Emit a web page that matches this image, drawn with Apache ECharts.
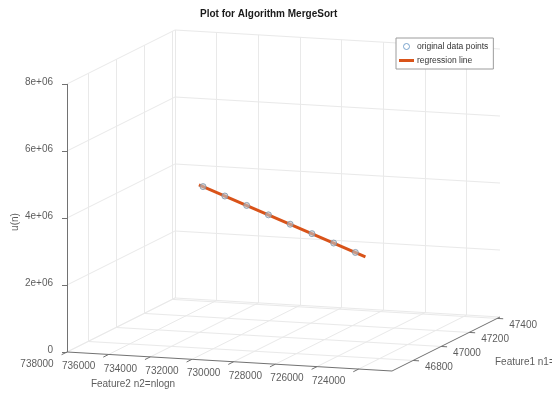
<!DOCTYPE html>
<html>
<head>
<meta charset="utf-8">
<script src="https://cdn.jsdelivr.net/npm/echarts@6/dist/echarts.min.js"></script>
<style>
  html, body { margin: 0; background: #fff; }
  #chart { width: 552px; height: 393px; }
</style>
</head>
<body>
<div id="chart"></div>
<script>
// measured points: n1 = n, n2 = n*log2(n), u(n)
const feature1 = [47426, 47324, 47222, 47120, 47018, 46916, 46814, 46712];
const feature2 = [736695, 734961, 733228, 731496, 729765, 728034, 726303, 724574];
const un = [3.360e6, 3.356e6, 3.351e6, 3.347e6, 3.343e6, 3.339e6, 3.334e6, 3.330e6];

// regression line end points
const fitFeature1 = [47445, 46665];
const fitFeature2 = [737018, 723777];
const fitUn = [3.362e6, 3.325e6];

const zTicks = [0, 2e6, 4e6, 6e6, 8e6];
const zTickLabels = ["0", "2e+06", "4e+06", "6e+06", "8e+06"];
const f2Ticks = [738000, 736000, 734000, 732000, 730000, 728000, 726000, 724000];
const f2TickLabels = ["738000", "736000", "734000", "732000", "730000", "728000", "726000", "724000"];
const f1Ticks = [46800, 47000, 47200, 47400];
const f1TickLabels = ["46800", "47000", "47200", "47400"];

// 3-D box as MATLAB draws it (orthographic view), in screen px
const F2_LIM = [722400, 738000]; // reversed: 738000 sits at the front-left corner
const F1_LIM = [46650, 47420];
const Z_LIM = [0, 8e6];
const ORIGIN = [67, 352];
const U_DIR = [325, 19];   // along feature2
const V_DIR = [108, -54];  // along feature1 (depth)
const W_DIR = [0, -268];   // up, u(n)

function proj(f1, f2, z) {
  const u = (F2_LIM[1] - f2) / (F2_LIM[1] - F2_LIM[0]);
  const v = (f1 - F1_LIM[0]) / (F1_LIM[1] - F1_LIM[0]);
  const w = (z - Z_LIM[0]) / (Z_LIM[1] - Z_LIM[0]);
  return [
    ORIGIN[0] + u * U_DIR[0] + v * V_DIR[0] + w * W_DIR[0],
    ORIGIN[1] + u * U_DIR[1] + v * V_DIR[1] + w * W_DIR[1],
  ];
}

const FONT = "'Liberation Sans', Arial, Helvetica, sans-serif";
const GRID_COLOR = "#e9e9e9";
const AXIS_COLOR = "#727272";
const TEXT_COLOR = "#333";
const LINE_COLOR = "#D95319";

// grid on the three walls
const gridSegs = [];
zTicks.forEach((z) => {
  gridSegs.push([proj(F1_LIM[1], F2_LIM[1], z), proj(F1_LIM[1], F2_LIM[0], z)]);
  gridSegs.push([proj(F1_LIM[0], F2_LIM[1], z), proj(F1_LIM[1], F2_LIM[1], z)]);
});
f2Ticks.forEach((t) => {
  gridSegs.push([proj(F1_LIM[1], t, Z_LIM[0]), proj(F1_LIM[1], t, Z_LIM[1])]);
  gridSegs.push([proj(F1_LIM[0], t, Z_LIM[0]), proj(F1_LIM[1], t, Z_LIM[0])]);
});
f1Ticks.forEach((t) => {
  gridSegs.push([proj(t, F2_LIM[1], Z_LIM[0]), proj(t, F2_LIM[1], Z_LIM[1])]);
  gridSegs.push([proj(t, F2_LIM[1], Z_LIM[0]), proj(t, F2_LIM[0], Z_LIM[0])]);
});

// axis lines and tick marks
const axisSegs = [
  [proj(F1_LIM[0], F2_LIM[1], Z_LIM[0]), proj(F1_LIM[0], F2_LIM[1], Z_LIM[1])],
  [proj(F1_LIM[0], F2_LIM[1], Z_LIM[0]), proj(F1_LIM[0], F2_LIM[0], Z_LIM[0])],
  [proj(F1_LIM[0], F2_LIM[0], Z_LIM[0]), proj(F1_LIM[1], F2_LIM[0], Z_LIM[0])],
];
const zTickPts = zTicks.map((z) => proj(F1_LIM[0], F2_LIM[1], z));
const f2TickPts = f2Ticks.map((t) => proj(F1_LIM[0], t, Z_LIM[0]));
const f1TickPts = f1Ticks.map((t) => proj(t, F2_LIM[0], Z_LIM[0]));
zTickPts.forEach((p) => axisSegs.push([p, [p[0] - 5, p[1]]]));
f2TickPts.forEach((p) => axisSegs.push([p, [p[0] - 5.4, p[1] + 2.7]]));
f1TickPts.forEach((p) => axisSegs.push([p, [p[0] + 6, p[1] + 0.35]]));

function textSeries(points, texts, label) {
  return {
    type: "scatter",
    symbolSize: 0,
    silent: true,
    z: 6,
    data: points.map((p, i) => ({ value: p, name: texts[i] })),
    label: Object.assign({
      show: true,
      formatter: "{b}",
      color: TEXT_COLOR,
      fontSize: 10,
      fontFamily: FONT,
      distance: 0,
    }, label),
  };
}

const chart = echarts.init(document.getElementById("chart"), null, { renderer: "canvas" });

chart.setOption({
  animation: false,
  backgroundColor: "#fff",
  title: {
    text: "Plot for Algorithm MergeSort",
    left: 200,
    top: 9,
    padding: 0,
    textStyle: { fontSize: 10, fontWeight: "bold", color: "#1a1a1a", fontFamily: FONT },
  },
  legend: {
    orient: "vertical",
    left: 396,
    top: 38,
    selectedMode: false,
    itemWidth: 15,
    itemHeight: 6,
    itemGap: 5,
    padding: [4, 5, 4, 3],
    borderColor: "#9c9c9c",
    borderWidth: 1,
    backgroundColor: "#fff",
    textStyle: { fontSize: 8.5, color: TEXT_COLOR, fontFamily: FONT, padding: [0, 0, 0, -2] },
    data: [
      {
        name: "original data points",
        icon: "circle",
        itemStyle: { color: "#fff", borderColor: "#5b8fc0", borderWidth: 1 },
      },
      {
        name: "regression line",
        icon: "path://M0 0H15V3H0Z",
        itemStyle: { color: LINE_COLOR, borderWidth: 0 },
      },
    ],
  },
  grid: { left: 0, right: 0, top: 0, bottom: 0 },
  xAxis: { type: "value", min: 0, max: 552, show: false },
  yAxis: { type: "value", min: 0, max: 393, inverse: true, show: false },
  series: [
    {
      type: "lines",
      coordinateSystem: "cartesian2d",
      silent: true,
      z: 1,
      lineStyle: { color: GRID_COLOR, width: 1, opacity: 1 },
      data: gridSegs.map((s) => ({ coords: s })),
    },
    {
      type: "lines",
      coordinateSystem: "cartesian2d",
      silent: true,
      z: 2,
      lineStyle: { color: AXIS_COLOR, width: 1, opacity: 1 },
      data: axisSegs.map((s) => ({ coords: s })),
    },
    {
      name: "regression line",
      type: "line",
      z: 4,
      symbol: "none",
      showSymbol: false,
      color: LINE_COLOR,
      lineStyle: { color: LINE_COLOR, width: 3 },
      data: fitFeature1.map((f, i) => proj(f, fitFeature2[i], fitUn[i])),
    },
    {
      name: "original data points",
      type: "scatter",
      z: 5,
      symbol: "circle",
      symbolSize: 6,
      itemStyle: { color: "rgba(190,196,204,0.75)", borderColor: "#7f93a8", borderWidth: 1 },
      data: feature1.map((f, i) => proj(f, feature2[i], un[i])),
    },
    textSeries(zTickPts.map((p) => [p[0] - 14, p[1] - 1.5]), zTickLabels, { position: "left" }),
    textSeries(f2TickPts.map((p) => [p[0] - 30, p[1] + 12]), f2TickLabels, { position: "inside" }),
    textSeries(f1TickPts.map((p) => [p[0] + 12, p[1] + 7]), f1TickLabels, { position: "right" }),
    textSeries([[133, 384]], ["Feature2 n2=nlogn"], { position: "inside" }),
    textSeries([[495, 362]], ["Feature1 n1=n"], { position: "right" }),
    textSeries([[15, 222]], ["u(n)"], { position: "inside", rotate: 90 }),
  ],
});
</script>
</body>
</html>
